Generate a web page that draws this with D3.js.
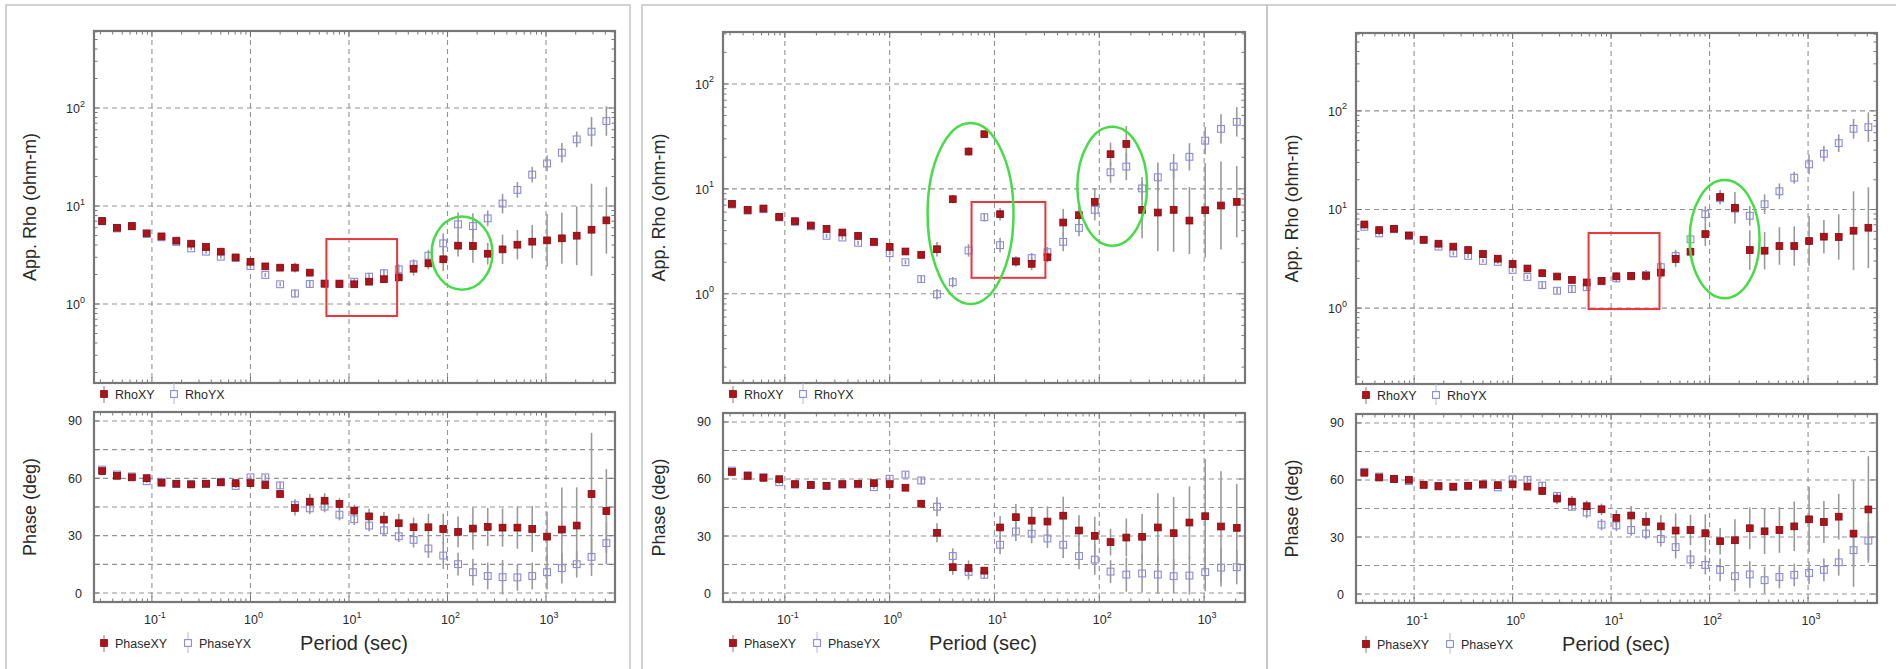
<!DOCTYPE html>
<html><head><meta charset="utf-8">
<script src="https://cdn.jsdelivr.net/npm/d3@7"></script>
<style>
body{margin:0;background:#fff}
svg{display:block}
text{font-family:"Liberation Sans",Arial,Helvetica,sans-serif;fill:#2a2a2a}
</style>
</head><body>
<svg id="chart" width="1896" height="669"></svg>
<script>
// ---------------- DATA ----------------
const periodsLong = [0.03125,0.04419,0.0625,0.08839,0.125,0.1768,0.25,0.3536,0.5,0.7071,1,1.414,2,2.828,4,5.657,8,11.31,16,22.63,32,45.25,64,90.51,128,181.0,256,362.0,512,724.1,1024,1448,2048,2896,4096];
const periodsShort = [0.03125,0.04419,0.0625,0.08839,0.125,0.1768,0.25,0.3536,0.5,0.7071,1,1.414,2,2.828,4,5.657,8,11.31,16,22.63,32,45.25,64,90.51,128,181.0,256,362.0,512,724.1,1024,1448,2048];

const seriesNames = ["RhoXY","RhoYX"];
const phaseNames = ["PhaseXY","PhaseYX"];
const phaseTicks = [0,30,60,90];
const phaseGrid = [0,15,30,45,60,75,90];

// Site 1
const rhoXY1 = [7.03,6.0,6.25,5.26,4.9,4.43,4.13,3.82,3.42,2.99,2.70,2.42,2.35,2.35,2.09,1.61,1.60,1.59,1.69,1.79,1.87,2.29,2.60,2.86,3.94,3.91,3.26,3.61,4.03,4.33,4.46,4.68,4.98,5.73,7.14];
const rhoXY1Err = [0.02,0.02,0.02,0.02,0.02,0.02,0.02,0.02,0.02,0.02,0.02,0.02,0.02,0.05,0.03,0.03,0.03,0.03,0.03,0.04,0.04,0.07,0.06,0.12,0.11,0.17,0.11,0.15,0.15,0.17,0.27,0.26,0.3,0.47,0.34];
const rhoYX1 = [7.0,5.9,6.2,5.2,4.8,4.3,3.70,3.42,3.04,2.95,2.44,1.98,1.59,1.28,1.60,1.62,1.62,1.69,1.90,2.06,2.26,2.54,3.11,4.16,6.50,6.25,7.48,10.6,14.6,20.9,27.2,35.0,47.9,57.4,73.6];
const rhoYX1Err = [0.02,0.02,0.02,0.02,0.02,0.02,0.02,0.02,0.02,0.02,0.02,0.02,0.02,0.04,0.03,0.03,0.03,0.03,0.04,0.04,0.05,0.05,0.06,0.1,0.12,0.13,0.08,0.1,0.08,0.08,0.08,0.1,0.08,0.15,0.15];
const phaseXY1 = [63.8,61.3,60.5,60.1,57.7,57.2,56.8,57.2,57.9,57.5,57.5,56.5,51.8,44.5,47.8,48.3,46.6,43.1,40.1,38.4,36.5,34.4,34.4,33.5,32.0,33.7,34.6,34.2,34.2,33.5,29.5,33.2,35.3,51.8,42.9];
const phaseXY1Err = [1,1,1,1,1,1,1,1,1,1,1,1.5,2,4,4,4,3,3,4,4,5,5,7,8,8,11,10,10,11,12,13,22,20,32,22];
const phaseYX1 = [64.6,62.0,61.0,58.5,58.0,57.0,57.0,57.0,58.0,56.0,60.5,60.5,56.3,46.0,44.3,45.2,41.0,38.6,35.3,32.8,29.7,27.8,23.3,19.6,15.1,10.9,8.9,8.3,8.2,8.9,10.9,13.0,15.1,18.9,26.1];
const phaseYX1Err = [1,1,1,1,1,1,1,1,1,1,1,1.5,2,3,3,3,3,3,3,3,3,4,5,7,6,7,7,9,7,7,9,8,7,10,11];

// Site 2
const rhoXY2 = [7.2,6.3,6.5,5.41,4.92,4.48,4.16,3.84,3.57,3.13,2.80,2.53,2.35,2.66,7.97,22.7,33.2,5.74,2.03,1.93,2.23,4.78,5.61,7.52,21.4,26.8,6.31,5.95,6.31,4.99,6.26,6.94,7.52];
const rhoXY2Err = [0.02,0.02,0.02,0.02,0.02,0.02,0.02,0.02,0.02,0.02,0.02,0.02,0.02,0.07,0.04,0.04,0.03,0.06,0.05,0.06,0.05,0.13,0.1,0.13,0.11,0.17,0.27,0.37,0.4,0.32,0.45,0.42,0.34];
const rhoYX2 = [7.1,6.2,6.4,5.35,4.85,4.4,3.57,3.44,3.06,3.1,2.44,2.0,1.38,0.99,1.29,2.59,5.37,2.91,2.05,2.19,2.49,3.13,4.25,6.31,14.4,16.3,10.1,12.9,16.3,20.2,28.8,37.3,43.5];
const rhoYX2Err = [0.02,0.02,0.02,0.02,0.02,0.02,0.02,0.02,0.02,0.02,0.02,0.02,0.03,0.05,0.05,0.06,0.04,0.07,0.04,0.05,0.05,0.09,0.08,0.1,0.1,0.13,0.11,0.14,0.12,0.13,0.13,0.14,0.14];
const phaseXY2 = [63.7,61.6,60.6,59.9,57.3,56.9,56.4,57.3,57.5,57.8,57.3,55.4,47.0,31.7,13.6,13.2,11.8,34.5,39.9,38.1,37.6,40.7,32.9,30.1,26.8,29.2,29.6,34.5,31.5,37.1,40.4,35.0,34.3];
const phaseXY2Err = [1,1,1,1,1,1,1,1,1,1,1,1.5,2,5,4,4,2,6,7,7,8,10,8,10,7,10,12,18,19,19,30,29,23];
const phaseYX2 = [64.4,62.0,61.0,58.3,57.0,56.8,56.4,57.0,57.2,55.7,60.1,62.3,59.2,45.4,19.5,11.1,9.6,25.4,32.4,31.2,28.7,25.4,19.5,17.6,11.3,9.7,10.3,9.7,8.9,9.2,11.0,13.4,13.6];
const phaseYX2Err = [1,1,1,1,1,1,1,1,1,1,1,1.5,2,5,4,4,2,5,5,5,5,7,7,8,6,9,10,10,9,10,10,10,9];

// Site 3
const rhoXY3 = [7.05,6.18,6.38,5.46,4.94,4.50,4.20,3.88,3.54,3.17,2.80,2.52,2.26,2.09,1.93,1.82,1.89,2.10,2.12,2.12,2.29,3.15,3.73,5.63,13.4,10.4,3.88,3.82,4.26,4.26,4.79,5.30,5.26,6.09,6.53];
const rhoXY3Err = [0.02,0.02,0.02,0.02,0.02,0.02,0.02,0.02,0.02,0.02,0.02,0.02,0.02,0.02,0.02,0.03,0.03,0.04,0.04,0.05,0.06,0.08,0.06,0.12,0.07,0.16,0.2,0.19,0.19,0.2,0.25,0.17,0.23,0.4,0.41];
const rhoYX3 = [6.68,5.72,6.3,5.4,4.9,4.2,3.59,3.38,3.01,2.94,2.44,2.07,1.71,1.50,1.56,1.63,1.87,2.0,2.1,2.17,2.60,3.38,4.98,8.97,13.0,10.2,8.63,11.3,15.3,21.0,28.7,36.8,47.1,65.8,68.4];
const rhoYX3Err = [0.02,0.02,0.02,0.02,0.02,0.02,0.02,0.02,0.02,0.02,0.02,0.02,0.03,0.03,0.03,0.03,0.03,0.04,0.04,0.05,0.05,0.06,0.06,0.08,0.06,0.06,0.1,0.1,0.08,0.06,0.1,0.08,0.09,0.1,0.15];
const phaseXY3 = [63.8,61.3,60.5,60.1,57.5,56.8,56.5,57.0,57.7,57.3,57.7,56.5,54.2,50.2,48.6,46.2,44.6,40.1,41.3,38.0,35.6,33.4,33.7,32.0,27.8,28.3,34.6,33.0,33.7,35.6,39.3,37.9,40.7,31.8,44.5];
const phaseXY3Err = [1,1,1,1,1,1,1,1,1,1,1,1.5,2,3,3,3,3,4,5,5,6,9,8,10,7,11,11,12,12,13,17,11,12,28,28];
const phaseYX3 = [64.3,61.8,60.6,59.4,57.3,56.6,56.3,56.8,57.5,56.1,60.3,60.1,57.0,51.6,45.9,42.9,36.5,36.1,33.7,31.8,29.0,24.7,18.2,15.3,12.7,9.4,10.3,7.3,9.0,10.1,11.1,12.7,16.7,23.1,28.1];
const phaseYX3Err = [1,1,1,1,1,1,1,1,1,1,1,1.5,2,2,2,3,3,3,3,3,4,6,5,5,6,8,7,7,6,6,6,6,7,9,10];

// Annotations (data coords): rect [xmin,xmax,ymin,ymax]; ellipses bounding boxes
const rectA1 = [5.9,30.8,0.755,4.6];
const ellipsesA1 = [[69,286,1.4,7.8]];
const rectA2 = [6.04,30.6,1.42,7.5];
const ellipsesA2 = [[2.30,15.2,0.80,42.5],[61.7,286,2.87,39]];
const rectA3 = [5.91,31,0.977,5.77];
const ellipsesA3 = [[62.7,322,1.26,19.9]];

// ---------------- LAYOUT ----------------
const sites = [
  {periods:periodsLong, rhoXY:rhoXY1, rhoXYErr:rhoXY1Err, rhoYX:rhoYX1, rhoYXErr:rhoYX1Err,
   phXY:phaseXY1, phXYErr:phaseXY1Err, phYX:phaseYX1, phYXErr:phaseYX1Err, rect:rectA1, ellipses:ellipsesA1,
   frame:[6,5,630,680], x0:94, x1:615, ry0:31, ry1:383, py0:412, py1:602,
   xDom:[Math.pow(10,-1.588),Math.pow(10,3.70)], rDom:[Math.pow(10,-0.806),Math.pow(10,2.786)]},
  {periods:periodsShort, rhoXY:rhoXY2, rhoXYErr:rhoXY2Err, rhoYX:rhoYX2, rhoYXErr:rhoYX2Err,
   phXY:phaseXY2, phXYErr:phaseXY2Err, phYX:phaseYX2, phYXErr:phaseYX2Err, rect:rectA2, ellipses:ellipsesA2,
   frame:[642,5,1267,680], x0:723, x1:1245, ry0:32, ry1:383, py0:413, py1:602,
   xDom:[Math.pow(10,-1.59),Math.pow(10,3.39)], rDom:[Math.pow(10,-0.85),Math.pow(10,2.495)]},
  {periods:periodsLong, rhoXY:rhoXY3, rhoXYErr:rhoXY3Err, rhoYX:rhoYX3, rhoYXErr:rhoYX3Err,
   phXY:phaseXY3, phXYErr:phaseXY3Err, phYX:phaseYX3, phYXErr:phaseYX3Err, rect:rectA3, ellipses:ellipsesA3,
   frame:[1267,5,1905,680], x0:1356, x1:1877, ry0:33, ry1:384, py0:414, py1:603,
   xDom:[Math.pow(10,-1.59),Math.pow(10,3.70)], rDom:[Math.pow(10,-0.77),Math.pow(10,2.79)]}
];
const phaseDom = [-4.7,94.7];

const RED = "#b01219", RED_EDGE = "#7c0b10", BLUE = "#8a8ae0", ERR = "#9a9a9a";
const GRID = "#939393", AXIS = "#777777";

const svg = d3.select("#chart");

function isDecade(v){ const l=Math.log10(v); return Math.abs(l-Math.round(l))<1e-6; }

function supText(sel, exp){
  sel.append("tspan").text("10");
  sel.append("tspan").attr("dy",-6.5).attr("font-size",9).text(exp);
}

sites.forEach((s,si)=>{
  const g = svg.append("g");
  g.append("rect").attr("x",s.frame[0]).attr("y",s.frame[1])
    .attr("width",s.frame[2]-s.frame[0]).attr("height",s.frame[3]-s.frame[1])
    .attr("fill","none").attr("stroke","#c4c4c4").attr("stroke-width",1.5);

  const x = d3.scaleLog().domain(s.xDom).range([s.x0,s.x1]);
  const yR = d3.scaleLog().domain(s.rDom).range([s.ry1,s.ry0]);
  const yP = d3.scaleLinear().domain(phaseDom).range([s.py1,s.py0]);
  const xTicks = x.ticks();
  const decadesX = xTicks.filter(isDecade);

  function subplot(y, top, bottom, yTicksAll, yGridVals, cid){
    svg.append("clipPath").attr("id",cid).append("rect")
      .attr("x",s.x0).attr("y",top).attr("width",s.x1-s.x0).attr("height",bottom-top);
    const gg = g.append("g");
    decadesX.forEach(v=>{
      gg.append("line").attr("x1",x(v)).attr("x2",x(v)).attr("y1",top).attr("y2",bottom)
        .attr("stroke",GRID).attr("stroke-dasharray","5,4").attr("stroke-width",1.1);
    });
    yGridVals.forEach(v=>{
      gg.append("line").attr("x1",s.x0).attr("x2",s.x1).attr("y1",y(v)).attr("y2",y(v))
        .attr("stroke",GRID).attr("stroke-dasharray","5,4").attr("stroke-width",1.1);
    });
    xTicks.forEach(v=>{
      const L = isDecade(v)?6:3.5;
      gg.append("line").attr("x1",x(v)).attr("x2",x(v)).attr("y1",bottom).attr("y2",bottom-L).attr("stroke",AXIS);
      gg.append("line").attr("x1",x(v)).attr("x2",x(v)).attr("y1",top).attr("y2",top+L).attr("stroke",AXIS);
    });
    yTicksAll.forEach(t=>{
      const L = t.major?6:3.5;
      gg.append("line").attr("x1",s.x0).attr("x2",s.x0+L).attr("y1",y(t.v)).attr("y2",y(t.v)).attr("stroke",AXIS);
      gg.append("line").attr("x1",s.x1).attr("x2",s.x1-L).attr("y1",y(t.v)).attr("y2",y(t.v)).attr("stroke",AXIS);
    });
    gg.append("rect").attr("x",s.x0).attr("y",top).attr("width",s.x1-s.x0).attr("height",bottom-top)
      .attr("fill","none").attr("stroke",AXIS).attr("stroke-width",2.2);
    return gg;
  }

  function drawSeries(gg, y, vals, errs, isLog, cid){
    const pts = s.periods.map((p,i)=>({p, v:vals[i], e:errs[i]}));
    const eg = gg.append("g").attr("clip-path",`url(#${cid})`);
    eg.selectAll("line").data(pts).enter().append("line")
      .attr("x1",d=>x(d.p)).attr("x2",d=>x(d.p))
      .attr("y1",d=>isLog? y(d.v*Math.pow(10,d.e)) : y(d.v+d.e))
      .attr("y2",d=>isLog? y(d.v/Math.pow(10,d.e)) : y(d.v-d.e))
      .attr("stroke",ERR).attr("stroke-width",1.6);
    return pts;
  }
  function drawMarkers(gg, y, pts, filled, cid){
    const mg = gg.append("g").attr("clip-path",`url(#${cid})`);
    const sel = mg.selectAll("rect").data(pts).enter().append("rect")
      .attr("x",d=>x(d.p)-3.4).attr("y",d=>y(d.v)-3.4).attr("width",6.8).attr("height",6.8);
    if(filled) sel.attr("fill",RED).attr("stroke",RED_EDGE).attr("stroke-width",0.8);
    else sel.attr("fill","none").attr("stroke",BLUE).attr("stroke-width",1.1);
  }

  // ---------- RHO ----------
  const rTicks = yR.ticks().map(v=>({v, major:isDecade(v)}));
  const rDecades = rTicks.filter(t=>t.major).map(t=>t.v);
  const cR = "clipR"+si;
  const gR = subplot(yR, s.ry0, s.ry1, rTicks, rDecades, cR);
  const pYX = drawSeries(gR, yR, s.rhoYX, s.rhoYXErr, true, cR);
  const pXY = drawSeries(gR, yR, s.rhoXY, s.rhoXYErr, true, cR);
  drawMarkers(gR, yR, pYX, false, cR);
  drawMarkers(gR, yR, pXY, true, cR);
  rDecades.forEach(v=>{
    const t = g.append("text").attr("x",s.x0-9).attr("y",yR(v)+5).attr("text-anchor","end").attr("font-size",12.5);
    supText(t, String(Math.round(Math.log10(v))));
  });
  const r = s.rect;
  g.append("rect").attr("x",x(r[0])).attr("y",yR(r[3])).attr("width",x(r[1])-x(r[0])).attr("height",yR(r[2])-yR(r[3]))
    .attr("fill","none").attr("stroke","#e8363a").attr("stroke-width",2);
  s.ellipses.forEach(e=>{
    const cx=(x(e[0])+x(e[1]))/2, cy=(yR(e[2])+yR(e[3]))/2;
    g.append("ellipse").attr("cx",cx).attr("cy",cy).attr("rx",(x(e[1])-x(e[0]))/2).attr("ry",(yR(e[2])-yR(e[3]))/2)
      .attr("fill","none").attr("stroke","#47dc47").attr("stroke-width",2.5);
  });
  g.append("text").attr("transform",`translate(${s.x0-58},${(s.ry0+s.ry1)/2}) rotate(-90)`)
    .attr("text-anchor","middle").attr("font-size",18).text("App. Rho (ohm-m)");

  // ---------- PHASE ----------
  const pTicks = phaseGrid.map(v=>({v, major:true}));
  const cP = "clipP"+si;
  const gP = subplot(yP, s.py0, s.py1, pTicks, phaseGrid, cP);
  const qYX = drawSeries(gP, yP, s.phYX, s.phYXErr, false, cP);
  const qXY = drawSeries(gP, yP, s.phXY, s.phXYErr, false, cP);
  drawMarkers(gP, yP, qYX, false, cP);
  drawMarkers(gP, yP, qXY, true, cP);
  phaseTicks.forEach(v=>{
    g.append("text").attr("x",s.x0-12).attr("y",yP(v)+4.5).attr("text-anchor","end").attr("font-size",12.5).text(v);
  });
  decadesX.forEach(v=>{
    const t = g.append("text").attr("x",x(v)+3).attr("y",s.py1+22).attr("text-anchor","middle").attr("font-size",12.5);
    supText(t, String(Math.round(Math.log10(v))));
  });
  g.append("text").attr("transform",`translate(${s.x0-58},${(s.py0+s.py1)/2}) rotate(-90)`)
    .attr("text-anchor","middle").attr("font-size",18).text("Phase (deg)");
  g.append("text").attr("x",s.x0+260).attr("y",s.py1+48).attr("text-anchor","middle").attr("font-size",20).text("Period (sec)");

  // ---------- LEGENDS ----------
  function legend(yc, names){
    const lx = s.x0+10;
    g.append("line").attr("x1",lx).attr("x2",lx).attr("y1",yc-8).attr("y2",yc+9).attr("stroke","#a07070").attr("stroke-width",1);
    g.append("rect").attr("x",lx-3.4).attr("y",yc-3.4).attr("width",6.8).attr("height",6.8).attr("fill",RED).attr("stroke",RED_EDGE).attr("stroke-width",0.8);
    g.append("text").attr("x",lx+11).attr("y",yc+4.5).attr("font-size",12.5).text(names[0]);
    const bx = lx + (names[0].length>5?84:70);
    g.append("line").attr("x1",bx).attr("x2",bx).attr("y1",yc-11).attr("y2",yc+10).attr("stroke","#b4b4ec").attr("stroke-width",1);
    g.append("rect").attr("x",bx-3.4).attr("y",yc-3.4).attr("width",6.8).attr("height",6.8).attr("fill","#fff").attr("stroke",BLUE).attr("stroke-width",1.1);
    g.append("text").attr("x",bx+11).attr("y",yc+4.5).attr("font-size",12.5).text(names[1]);
  }
  legend(s.ry1+11, seriesNames);
  legend(s.py1+41, phaseNames);
});
</script>
</body></html>
